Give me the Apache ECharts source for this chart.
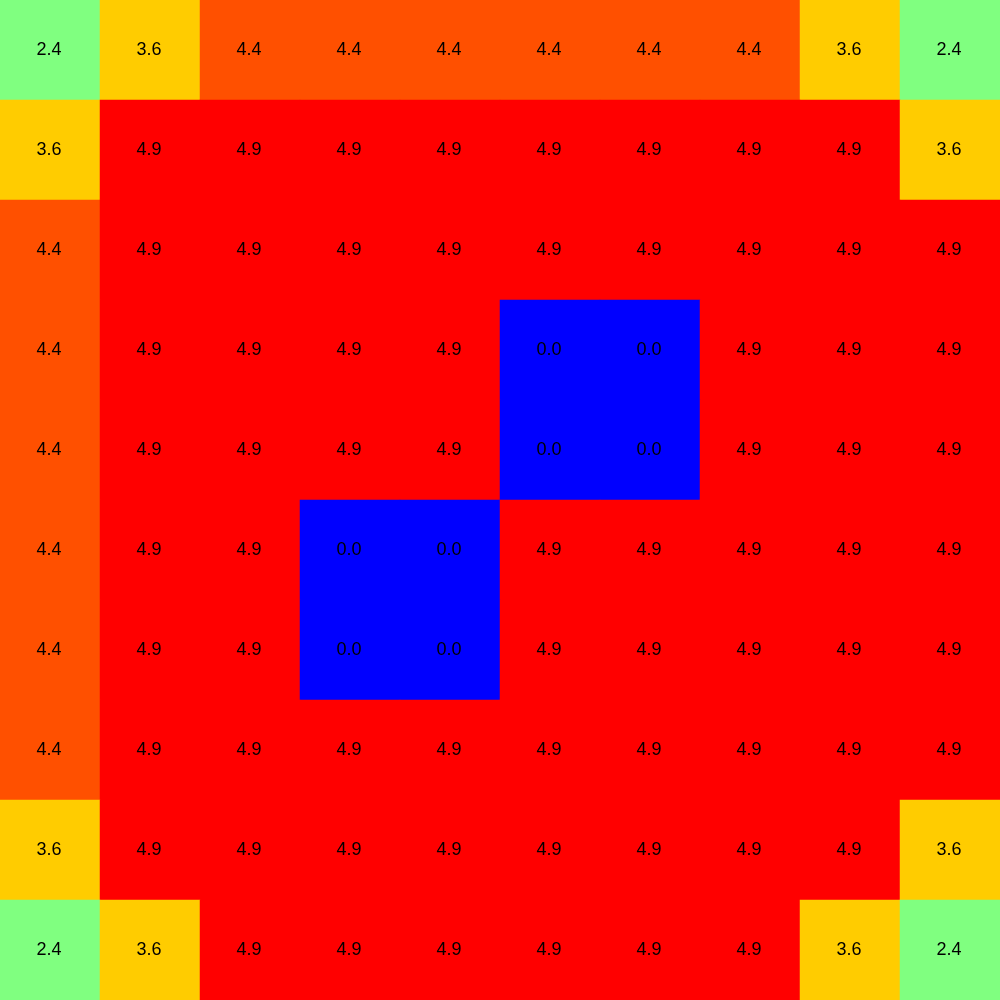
<!DOCTYPE html>
<html>
<head>
<meta charset="utf-8">
<style>html,body{margin:0;padding:0;background:#fff}#c{width:1000px;height:1000px}</style>
<script src="https://cdn.jsdelivr.net/npm/echarts@6/dist/echarts.min.js"></script>
</head>
<body>
<div id="c"></div>
<script>
const xCategories = ['0','1','2','3','4','5','6','7','8','9'];
const yCategories = ['0','1','2','3','4','5','6','7','8','9'];
// rows listed top to bottom
const row0 = [2.4, 3.6, 4.4, 4.4, 4.4, 4.4, 4.4, 4.4, 3.6, 2.4];
const row1 = [3.6, 4.9, 4.9, 4.9, 4.9, 4.9, 4.9, 4.9, 4.9, 3.6];
const row2 = [4.4, 4.9, 4.9, 4.9, 4.9, 4.9, 4.9, 4.9, 4.9, 4.9];
const row3 = [4.4, 4.9, 4.9, 4.9, 4.9, 0.0, 0.0, 4.9, 4.9, 4.9];
const row4 = [4.4, 4.9, 4.9, 4.9, 4.9, 0.0, 0.0, 4.9, 4.9, 4.9];
const row5 = [4.4, 4.9, 4.9, 0.0, 0.0, 4.9, 4.9, 4.9, 4.9, 4.9];
const row6 = [4.4, 4.9, 4.9, 0.0, 0.0, 4.9, 4.9, 4.9, 4.9, 4.9];
const row7 = [4.4, 4.9, 4.9, 4.9, 4.9, 4.9, 4.9, 4.9, 4.9, 4.9];
const row8 = [3.6, 4.9, 4.9, 4.9, 4.9, 4.9, 4.9, 4.9, 4.9, 3.6];
const row9 = [2.4, 3.6, 4.9, 4.9, 4.9, 4.9, 4.9, 4.9, 3.6, 2.4];
const rows = [row0,row1,row2,row3,row4,row5,row6,row7,row8,row9];

const data = [];
rows.forEach((r, ri) => r.forEach((v, ci) => data.push([ci, ri, v])));

const chart = echarts.init(document.getElementById('c'), null, {renderer: 'canvas'});
chart.setOption({
  animation: false,
  backgroundColor: '#ffffff',
  grid: {left: 0, right: 0, top: 0, bottom: 0},
  xAxis: {type: 'category', data: xCategories, show: false},
  yAxis: {type: 'category', data: yCategories, inverse: true, show: false},
  visualMap: {
    type: 'piecewise', show: false, dimension: 2,
    pieces: [
      {min: -0.5, max: 1, color: '#0000ff'},
      {min: 1, max: 3, color: '#80ff80'},
      {min: 3, max: 4, color: '#ffcc00'},
      {min: 4, max: 4.6, color: '#ff5000'},
      {min: 4.6, max: 6, color: '#ff0000'}
    ]
  },
  series: [{
    type: 'heatmap',
    data: data,
    itemStyle: {borderWidth: 0},
    label: {
      show: true, color: '#000', fontFamily: 'Liberation Sans', fontSize: 18,
      offset: [-1, 0],
      formatter: p => p.value[2].toFixed(1)
    },
    emphasis: {disabled: true}
  }]
});
</script>
</body>
</html>
